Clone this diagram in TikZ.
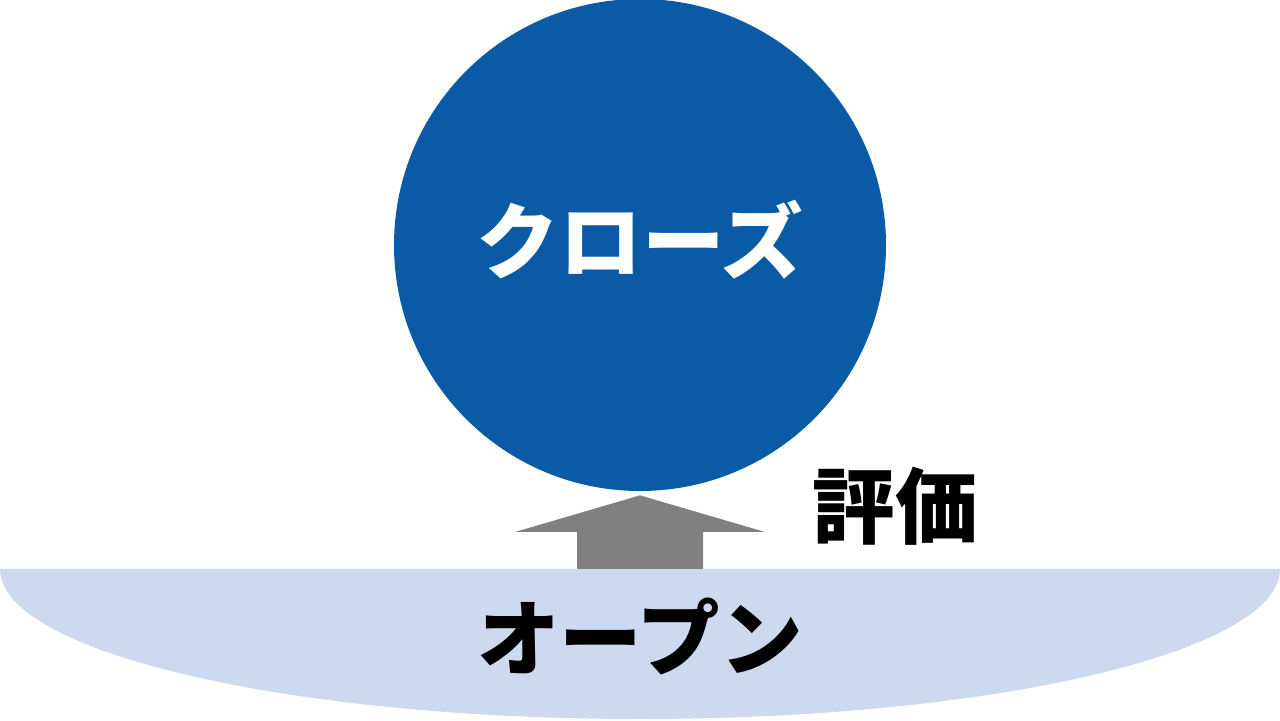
\documentclass[tikz,border=0pt]{standalone}
\usepackage{fontspec}
\newfontfamily\jpfont{Noto Sans CJK JP}
\usetikzlibrary{calc}
\definecolor{closeblue}{HTML}{0A5AA5}
\definecolor{openblue}{HTML}{CCD9EE}
\definecolor{arrowgray}{HTML}{808080}

\begin{document}
\begin{tikzpicture} [
  label/.style=
  {font=\jpfont\bfseries\fontsize{47}{50}\selectfont, inner sep=0pt},
  kreis/.style=
  {circle, fill=closeblue, minimum size=9.84cm, inner sep=0pt}]
\useasboundingbox (0,0) rectangle (25.6,14.4);
\fill [openblue] (0,3.02) arc[start angle=180, end angle=360, x radius=12.8, y radius=3.0] -- cycle;
\node [kreis] (close) at (12.8,9.5) {};
\node [label,text=white] (closeText) at ($(close.center)+(0,0.1)$) {クローズ};
\node [label] (open) at (12.8,1.66) {オープン};
\coordinate (arrowBase) at (12.8,3.02);
\coordinate (arrowTip) at ($(close.south)+(0,-0.08)$);
\fill [arrowgray] ($(arrowBase)+(-1.26,0)$) -- ($(arrowBase)+(-1.26,0.74)$) -- ($(arrowBase)+(-2.5,0.74)$)
  -- (arrowTip) -- ($(arrowBase)+(2.5,0.74)$) -- ($(arrowBase)+(1.26,0.74)$) -- ($(arrowBase)+(1.26,0)$) -- cycle;
\node [label] (eval) at ($(arrowTip)+(5.1,-0.22)$) {評価};
\end{tikzpicture}
\end{document}
